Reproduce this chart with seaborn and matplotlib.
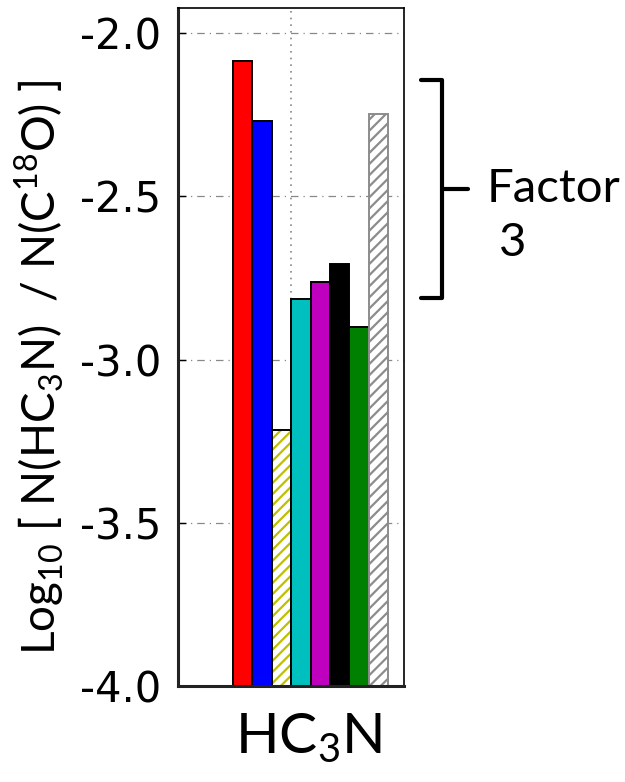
import numpy as np
import matplotlib.pyplot as plt
import matplotlib.patches as mpatches
import seaborn as sns

# fmt: off
# bar values (log10 abundance ratio)
bars = ['b1', 'b2', 'b3', 'b4', 'b5', 'b6', 'b7', 'b8']
values = [-2.086, -2.269, -3.215, -2.814, -2.763, -2.707, -2.901, -2.249]
face_colors = ['r', 'b', 'white', 'c', 'm', 'k', 'g', 'white']
hatch_colors = [None, None, 'y', None, None, None, None, '#8c8c8c']
yticks = [-4.0, -3.5, -3.0, -2.5, -2.0]
baseline = -4.0
# "Factor 3" bracket limits
bracket_lo, bracket_hi = -2.81, -2.144
# -

sns.set_style('white')
plt.rcParams['font.family'] = ['DejaVu Sans']
plt.rcParams['hatch.linewidth'] = 1.6
plt.rcParams['text.color'] = 'black'
plt.rcParams['ytick.color'] = 'black'
plt.rcParams['axes.labelcolor'] = 'black'

fig = plt.figure(figsize=(6.25, 7.82), dpi=100)
ax = fig.add_axes([0.285, 0.1228, 0.362, 0.867])

heights = [v - baseline for v in values]
sns.barplot(x=bars, y=heights, hue=bars, palette=face_colors, bottom=baseline,
            width=1.0, dodge=False, legend=False, edgecolor='black',
            linewidth=1.4, saturation=1, ax=ax)

# hatched bars: hatch in colour, outline drawn on top
for p, hc in zip(ax.patches, hatch_colors):
    if hc is None:
        continue
    p.set_hatch('///')
    p.set_edgecolor(hc)
    p.set_linewidth(0)
    ec = 'black' if hc == 'y' else hc
    ax.add_patch(mpatches.Rectangle((p.get_x(), p.get_y()), p.get_width(), p.get_height(),
                                    fill=False, edgecolor=ec, linewidth=1.4, zorder=p.get_zorder() + 0.1))

ax.set_xlim(-3.33, 8.33)
ax.set_ylim(-4.0, -1.923)
ax.set_yticks(yticks)
ax.set_yticklabels([f'{t:.1f}' for t in yticks], fontsize=30)
ax.set_xticks([2.5])
ax.set_xticklabels([''])
ax.tick_params(axis='y', direction='in', length=6, width=1, pad=12, left=True)
ax.tick_params(axis='x', length=0)

ax.grid(False)
for t in yticks[1:]:
    ax.axhline(t, color='#888888', lw=0.9, ls=(0, (6, 4, 1, 4)), zorder=0)
ax.axvline(2.5, color='#888888', lw=1.2, ls=(0, (1, 3)), zorder=0)

for s in ['top', 'right']:
    ax.spines[s].set_linewidth(1.2)
    ax.spines[s].set_color('black')
ax.spines['left'].set_linewidth(2.2)
ax.spines['bottom'].set_linewidth(2.2)
ax.spines['left'].set_color('#222222')
ax.spines['bottom'].set_color('#222222')

fig.text(40 / 625, 1 - 367 / 782,
         r'Log$_{\mathregular{10}}$ [ N(HC$_{\mathregular{3}}$N)  / N(C$^{\mathregular{18}}$O) ]',
         fontsize=33, family='Lato', rotation=90, ha='center', va='center')
ax.set_xlabel(r'HC$_{\mathregular{3}}$N', fontsize=41, family='Lato')
ax.xaxis.set_label_coords(0.575, -0.038)

# bracket "Factor 3"
tr = ax.get_yaxis_transform()
bx = 1.168
ax.plot([1.075, bx, bx, 1.075], [bracket_hi, bracket_hi, bracket_lo, bracket_lo],
        transform=tr, color='black', lw=3, clip_on=False, solid_joinstyle='round')
mid = (bracket_hi + bracket_lo) / 2
ax.plot([bx, 1.28], [mid, mid], transform=tr, color='black', lw=3, clip_on=False)
ax.text(1.365, mid, 'Factor', transform=tr, fontsize=34, family='Lato', va='center', ha='left')
ax.text(1.42, mid - 0.165, '3', transform=tr, fontsize=34, family='Lato', va='center', ha='left')

fig.savefig('out.png', dpi=100)
